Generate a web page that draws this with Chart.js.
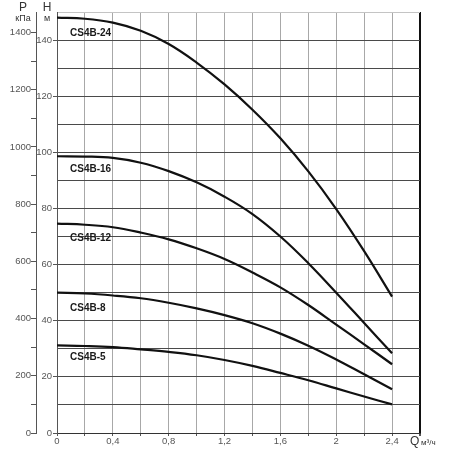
<!DOCTYPE html>
<html>
<head>
<meta charset="utf-8">
<script src="https://cdn.jsdelivr.net/npm/chart.js@4"></script>
<style>
html,body{margin:0;padding:0;background:#fff;}
#wrap{width:450px;height:450px;position:relative;}
</style>
</head>
<body>
<div id="wrap"><canvas id="c"></canvas></div>
<script>
// Flow Q, m³/h
const qValues = [0, 0.2, 0.4, 0.6, 0.8, 1.0, 1.2, 1.4, 1.6, 1.8, 2.0, 2.2, 2.4];
// Head H, m
const headCS4B24 = [148, 147.6, 146.2, 143.3, 138.6, 132, 124.2, 115.2, 105, 93.2, 79.8, 64.8, 48.6];
const headCS4B16 = [98.6, 98.5, 98, 96.3, 93.3, 89.3, 84.2, 78, 70, 60.5, 50, 39.2, 28.4];
const headCS4B12 = [74.6, 74.2, 73.3, 71.4, 69, 65.8, 62, 57.2, 51.9, 45.6, 38.6, 31.6, 24.5];
const headCS4B8  = [50, 49.7, 49, 48, 46.4, 44.4, 42, 39.1, 35.4, 31.1, 26.2, 20.9, 15.6];
const headCS4B5  = [31.2, 31, 30.6, 29.8, 28.9, 27.7, 26, 23.9, 21.4, 18.8, 15.9, 13, 10.2];
const seriesNames = ['CS4B-24', 'CS4B-16', 'CS4B-12', 'CS4B-8', 'CS4B-5'];
// label anchors (Q, H)
const labelQ = [0.093, 0.093, 0.093, 0.093, 0.093];
const labelH = [142.5, 94, 69.5, 44.5, 26.9];
// axes
const qMax = 2.6, hMax = 150, rhoG = 9.81;

const allHeads = [headCS4B24, headCS4B16, headCS4B12, headCS4B8, headCS4B5];
const FONT = "'Liberation Sans', Arial, sans-serif";

const datasets = allHeads.map((h, i) => ({
  label: seriesNames[i],
  data: qValues.map((q, j) => ({x: q, y: h[j]})),
  borderColor: '#111',
  borderWidth: 2.2,
  pointRadius: 0,
  fill: false,
  tension: 0.4,
  yAxisID: 'h'
}));

function near(v, m) { const r = v / m; return Math.abs(r - Math.round(r)) < 1e-6; }

const labelsPlugin = {
  id: 'curveLabels',
  afterDatasetsDraw(chart) {
    const ctx = chart.ctx, xs = chart.scales.x, ys = chart.scales.h;
    ctx.save();
    ctx.font = "bold 10px " + FONT;
    ctx.fillStyle = '#1a1a1a';
    ctx.textBaseline = 'middle';
    ctx.textAlign = 'left';
    seriesNames.forEach((n, i) => {
      ctx.fillText(n, xs.getPixelForValue(labelQ[i]), ys.getPixelForValue(labelH[i]));
    });
    ctx.restore();
  },
  afterDraw(chart) {
    const ctx = chart.ctx;
    ctx.save();
    ctx.fillStyle = '#333';
    ctx.textAlign = 'center';
    ctx.textBaseline = 'middle';
    ctx.font = "12px " + FONT;
    ctx.fillText('P', 23, 8);
    ctx.fillText('H', 47, 8);
    ctx.font = "9px " + FONT;
    ctx.fillText('кПа', 23, 19);
    ctx.fillText('м', 47, 19);
    ctx.textAlign = 'left';
    ctx.font = "12px " + FONT;
    ctx.fillText('Q', 410, 442);
    ctx.font = "8px " + FONT;
    ctx.fillText('м³/ч', 421, 443);
    ctx.restore();
  }
};

new Chart(document.getElementById('c'), {
  type: 'line',
  data: { datasets },
  options: {
    responsive: true,
    maintainAspectRatio: false,
    animation: false,
    layout: { padding: { top: 12, right: 30, left: 0, bottom: 0 } },
    plugins: { legend: { display: false }, tooltip: { enabled: false } },
    scales: {
      x: {
        type: 'linear',
        min: 0, max: qMax,
        ticks: {
          stepSize: 0.2, includeBounds: false,
          color: '#555', font: { family: FONT, size: 9.5 }, padding: 0,
          maxRotation: 0, autoSkip: false,
          callback: v => (near(v, 0.4) && v < 2.5) ? String(Math.round(v * 10) / 10).replace('.', ',') : ''
        },
        grid: {
          color: c => (c.tick && Math.abs(c.tick.value - qMax) < 1e-6) ? '#111' : '#a8a8a8',
          lineWidth: c => (c.tick && Math.abs(c.tick.value - qMax) < 1e-6) ? 2 : 1,
          tickLength: 3,
          tickColor: '#555'
        },
        border: { color: '#333', width: 1 },
        afterFit: s => { s.height = 17; s.paddingLeft = 0; s.paddingRight = 0; }
      },
      h: {
        type: 'linear', position: 'left', weight: 0,
        min: 0, max: hMax,
        ticks: {
          stepSize: 10, includeBounds: false,
          color: '#555', font: { family: FONT, size: 9.5 }, padding: 1,
          callback: v => (near(v, 20) && v <= 140) ? String(v) : ''
        },
        grid: {
          color: c => (c.tick && c.tick.value >= hMax) ? '#c4c4c4' : '#4a4a4a',
          tickLength: 4,
          tickColor: c => (c.tick && near(c.tick.value, 20) && c.tick.value <= 140) ? '#555' : 'rgba(0,0,0,0)'
        },
        border: { color: '#555', width: 1 },
        afterFit: s => { s.width = 21; s.paddingTop = 0; s.paddingBottom = 0; }
      },
      p: {
        type: 'linear', position: 'left', weight: 1,
        min: 0, max: hMax * rhoG,
        ticks: {
          stepSize: 100, includeBounds: false,
          color: '#555', font: { family: FONT, size: 9.5 }, padding: 0,
          callback: v => near(v, 200) ? String(v) : ''
        },
        grid: { drawOnChartArea: false, tickLength: 5, tickColor: '#555' },
        border: { color: '#555', width: 1 },
        afterFit: s => { s.width = 36; s.paddingTop = 0; s.paddingBottom = 0; }
      }
    }
  },
  plugins: [labelsPlugin]
});
</script>
</body>
</html>
